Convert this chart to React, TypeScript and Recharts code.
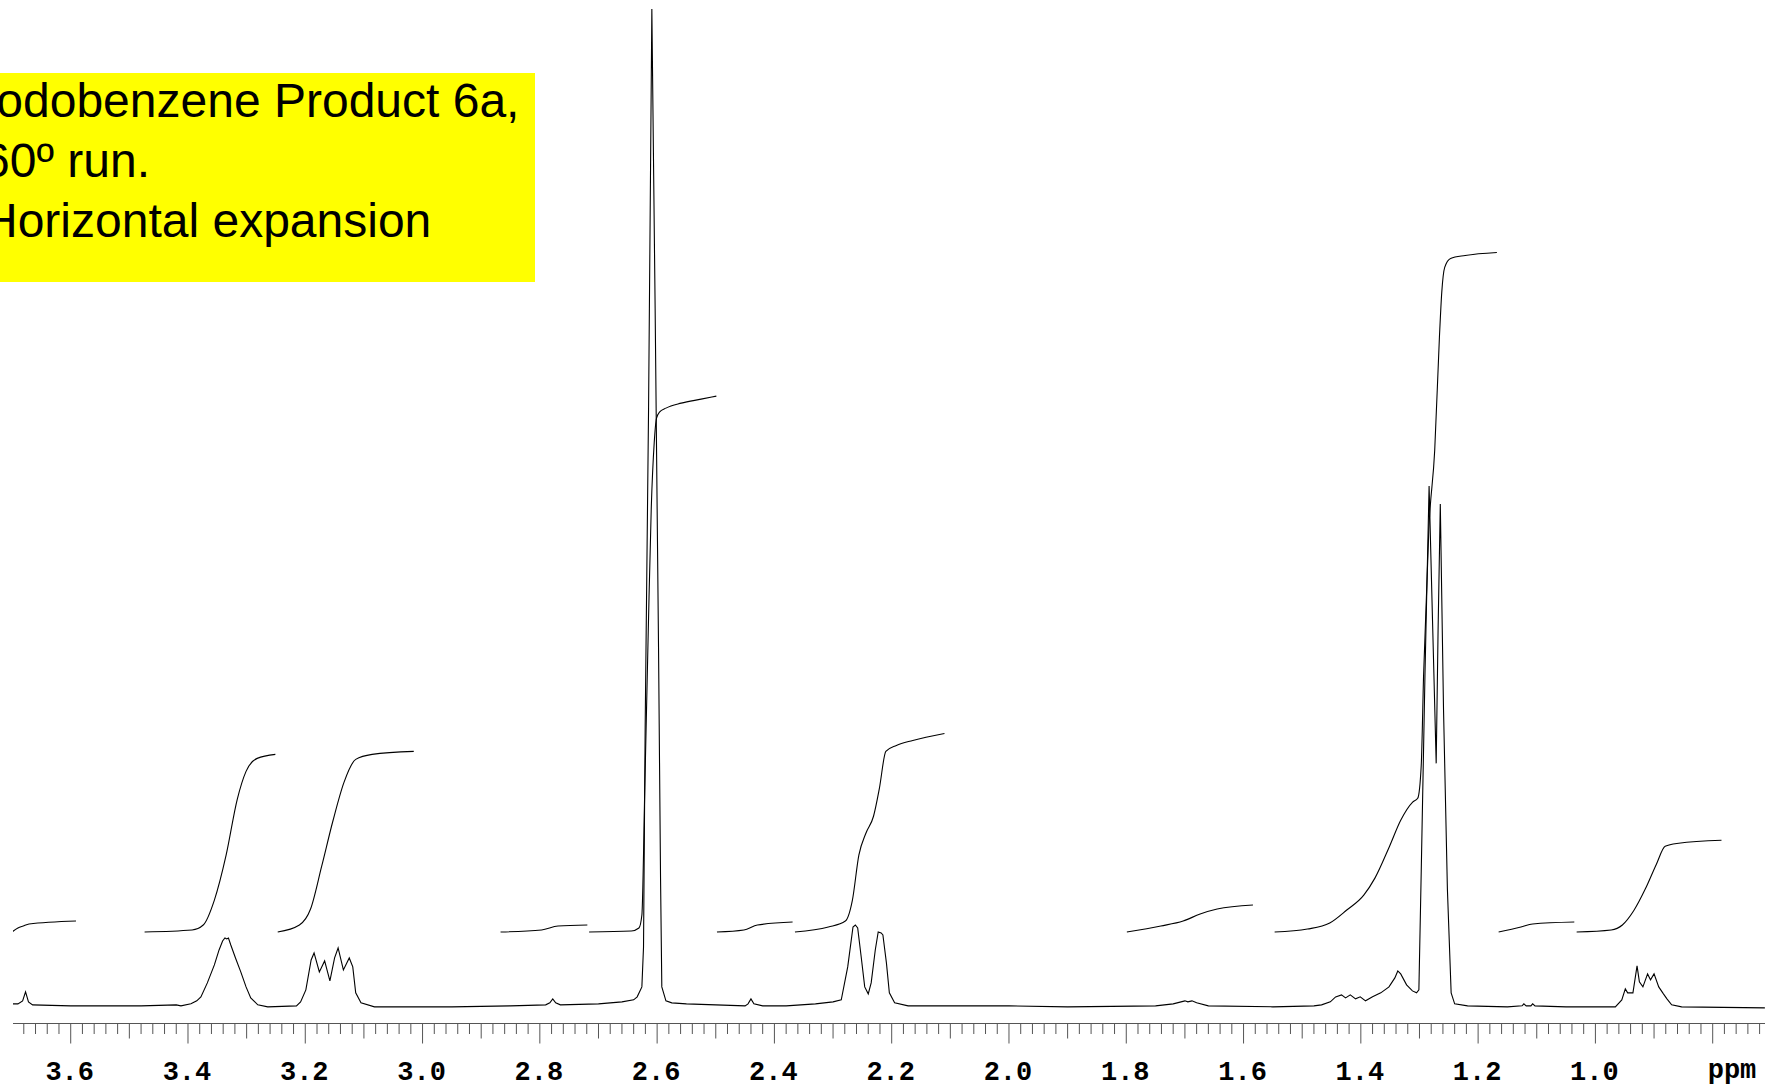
import { LineChart, Line, XAxis, YAxis } from 'recharts'

// ── Spectrum trace: [ppm, intensity] (tallest peak = 100) ──────────────────────

const SPECTRUM: [number, number][] = [
  [3.7, 0.3], [3.69, 0.3], [3.682, 0.6], [3.677, 1.5], [3.672, 0.5], [3.665, 0.2],
  [3.6, 0.1], [3.48, 0.1], [3.42, 0.2], [3.412, 0.1], [3.395, 0.3], [3.385, 0.6],
  [3.378, 1.0], [3.367, 2.4], [3.355, 4.2], [3.347, 5.7], [3.341, 6.6], [3.337, 6.9],
  [3.334, 6.8], [3.331, 6.9], [3.327, 6.2], [3.319, 4.9], [3.31, 3.5], [3.301, 2.0],
  [3.293, 0.9], [3.281, 0.2], [3.264, 0.0],
  [3.215, 0.1], [3.208, 0.5], [3.199, 1.7], [3.19, 4.7], [3.185, 5.4], [3.176, 3.5],
  [3.167, 4.6], [3.158, 2.6], [3.15, 4.9], [3.144, 5.9], [3.135, 3.7], [3.125, 4.9],
  [3.119, 4.0], [3.114, 1.4], [3.105, 0.4], [3.082, 0.0],
  [2.95, 0.0], [2.85, 0.1], [2.79, 0.2], [2.783, 0.4], [2.778, 0.8], [2.773, 0.4],
  [2.765, 0.2], [2.7, 0.3], [2.66, 0.5], [2.64, 0.7], [2.634, 1.0], [2.626, 2.0],
  [2.6232, 6], [2.6204, 28], [2.6146, 60], [2.609, 100], [2.6034, 70], [2.5976, 36],
  [2.5942, 13], [2.592, 2.0], [2.585, 0.6], [2.575, 0.4], [2.55, 0.3],
  [2.5, 0.2], [2.45, 0.1], [2.445, 0.3], [2.44, 0.8], [2.435, 0.3], [2.42, 0.1],
  [2.38, 0.1], [2.33, 0.3], [2.3, 0.5], [2.286, 0.7], [2.275, 4.0], [2.266, 8.0],
  [2.262, 8.2], [2.258, 7.9], [2.252, 5.0], [2.246, 2.0], [2.24, 1.3], [2.235, 2.4],
  [2.228, 5.7], [2.223, 7.5], [2.218, 7.4], [2.215, 7.2], [2.209, 4.4], [2.204, 1.4],
  [2.195, 0.4], [2.172, 0.1],
  [2.1, 0.1], [2.0, 0.1], [1.9, 0.0], [1.75, 0.1], [1.72, 0.3], [1.7, 0.6],
  [1.695, 0.5], [1.688, 0.6], [1.68, 0.4], [1.66, 0.1], [1.55, 0.0],
  [1.48, 0.1], [1.467, 0.2], [1.452, 0.5], [1.443, 1.0], [1.433, 1.2], [1.426, 0.9],
  [1.418, 1.2], [1.409, 0.8], [1.401, 1.0], [1.392, 0.6], [1.38, 1.0], [1.366, 1.4],
  [1.352, 2.0], [1.342, 2.9], [1.337, 3.6], [1.332, 3.3], [1.322, 2.2], [1.312, 1.6],
  [1.305, 1.4], [1.301, 1.7], [1.297, 13.6], [1.2906, 33.4], [1.2836, 52.2],
  [1.2778, 38.8], [1.2715, 24.4], [1.2683, 37.7], [1.2645, 50.4], [1.259, 29.8],
  [1.2524, 11.8], [1.246, 1.4], [1.24, 0.3], [1.218, 0.1],
  [1.15, 0.0], [1.125, 0.1], [1.122, 0.3], [1.118, 0.1], [1.11, 0.1], [1.107, 0.3],
  [1.103, 0.1], [1.05, 0.0],
  [0.966, 0.0], [0.955, 0.7], [0.949, 1.8], [0.945, 1.4], [0.936, 1.4], [0.929, 4.1],
  [0.925, 2.5], [0.919, 2.0], [0.911, 3.3], [0.906, 2.7], [0.9, 3.3], [0.892, 2.0],
  [0.884, 1.3], [0.878, 0.8], [0.87, 0.2], [0.853, 0.0], [0.711, -0.1],
]

// ── Integral curves: [ppm, level] ──────────────────────────────────────────────

const INT_368: [number, number][] = [
  [3.7, 7.5], [3.69, 7.9], [3.681, 8.1], [3.671, 8.3], [3.591, 8.6],
]
const INT_333: [number, number][] = [
  [3.474, 7.5], [3.393, 7.7], [3.374, 8.2], [3.355, 10.7], [3.335, 15.2],
  [3.316, 20.8], [3.301, 23.6], [3.282, 24.9], [3.251, 25.3],
]
const INT_315: [number, number][] = [
  [3.247, 7.5], [3.21, 8.2], [3.191, 9.8], [3.172, 14.1], [3.153, 18.6],
  [3.134, 22.5], [3.114, 24.8], [3.086, 25.3], [3.015, 25.6],
]
const INT_278: [number, number][] = [
  [2.867, 7.5], [2.797, 7.7], [2.769, 8.1], [2.719, 8.2],
]
const INT_261: [number, number][] = [
  [2.716, 7.5], [2.644, 7.6], [2.631, 7.9], [2.626, 9.2], [2.621, 22],
  [2.615, 38], [2.61, 50], [2.605, 56.5], [2.601, 59.0], [2.596, 59.6],
  [2.585, 60.0], [2.559, 60.5], [2.525, 60.9], [2.499, 61.2],
]
const INT_244: [number, number][] = [
  [2.498, 7.5], [2.452, 7.7], [2.429, 8.2], [2.369, 8.5],
]
const INT_224: [number, number][] = [
  [2.365, 7.5], [2.308, 8.0], [2.279, 8.6], [2.267, 10.7], [2.256, 15.2],
  [2.244, 17.4], [2.231, 19.1], [2.221, 21.9], [2.21, 25.6], [2.192, 26.2],
  [2.164, 26.7], [2.11, 27.4],
]
const INT_170: [number, number][] = [
  [1.799, 7.5], [1.741, 8.1], [1.703, 8.6], [1.674, 9.3], [1.645, 9.8], [1.584, 10.2],
]
const INT_128: [number, number][] = [
  [1.547, 7.5], [1.491, 7.8], [1.453, 8.4], [1.424, 9.7], [1.395, 11.2],
  [1.376, 12.9], [1.351, 16.1], [1.332, 18.7], [1.312, 20.5], [1.303, 20.9],
  [1.297, 24.2], [1.293, 33.2], [1.284, 47.9], [1.274, 55.8], [1.266, 67.1],
  [1.262, 71.6], [1.257, 74.1], [1.247, 75.0], [1.222, 75.3], [1.168, 75.6],
]
const INT_112: [number, number][] = [
  [1.165, 7.5], [1.127, 8.0], [1.107, 8.3], [1.036, 8.5],
]
const INT_092: [number, number][] = [
  [1.032, 7.5], [0.973, 7.7], [0.954, 8.2], [0.935, 9.6], [0.915, 11.8],
  [0.896, 14.3], [0.881, 16.1], [0.858, 16.4], [0.785, 16.7],
]

const INTEGRALS = [INT_368, INT_333, INT_315, INT_278, INT_261, INT_244, INT_224, INT_170, INT_128, INT_112, INT_092]

// ── Axis labels ───────────────────────────────────────────────────────────────

const MAJOR_LABELS = ['3.6', '3.4', '3.2', '3.0', '2.8', '2.6', '2.4', '2.2', '2.0', '1.8', '1.6', '1.4', '1.2', '1.0']
const UNIT_LABEL = 'ppm'
const UNIT_AT = 0.8

const CAPTION = ['Iodobenzene Product 6a,', '60º run.', 'Horizontal expansion']

// minor ticks every 0.02 ppm
const TICKS: number[] = []
for (let k = 36; k <= 184; k++) TICKS.push(k / 50)

const toRows = (pts: [number, number][]) => pts.map(([ppm, v]) => ({ ppm, v }))

const INK = '#000'
const AXIS = '#555'

function PpmTick(props: any) {
  const { x, y, payload } = props
  const k = Math.round(payload.value * 50)
  const major = k % 10 === 0
  const medium = !major && k % 5 === 0
  const len = major ? 20 : medium ? 15 : 10.5
  const txt = MAJOR_LABELS.find((l) => Math.round(Number(l) * 50) === k)
  const isUnit = k === Math.round(UNIT_AT * 50)
  return (
    <g>
      <line x1={x} x2={x} y1={y} y2={y + len} stroke={AXIS} strokeWidth={1} />
      {txt && (
        <text x={x - 1} y={y + 56} textAnchor="middle" fontFamily="'Liberation Mono', monospace" fontWeight="bold" fontSize={27} fill={INK}>
          {txt}
        </text>
      )}
      {isUnit && (
        <text x={x - 5} y={y + 54} textAnchor="start" fontFamily="'Liberation Mono', monospace" fontWeight="bold" fontSize={27} fill={INK}>
          {UNIT_LABEL}
        </text>
      )}
    </g>
  )
}

export default function App() {
  return (
    <div style={{ position: 'absolute', left: 0, top: 0, width: 1765, height: 1087, background: '#fff', overflow: 'hidden' }}>
      <LineChart width={1765} height={1087} margin={{ top: 9, right: 0, bottom: 0, left: 13 }}>
        <XAxis
          type="number"
          dataKey="ppm"
          domain={[0.7108, 3.6984]}
          reversed
          allowDataOverflow
          ticks={TICKS}
          interval={0}
          tickSize={0}
          tickMargin={0}
          tickLine={false}
          tick={(p: any) => <PpmTick {...p} />}
          axisLine={{ stroke: AXIS, strokeWidth: 1 }}
          height={63.5}
        />
        <YAxis hide type="number" domain={[-1.67, 100]} allowDataOverflow />
        <Line
          data={toRows(SPECTRUM)}
          dataKey="v"
          type="linear"
          stroke={INK}
          strokeWidth={1.1}
          dot={false}
          isAnimationActive={false}
        />
        {INTEGRALS.map((seg, i) => (
          <Line
            key={i}
            data={toRows(seg)}
            dataKey="v"
            type="monotone"
            stroke={INK}
            strokeWidth={1.1}
            dot={false}
            isAnimationActive={false}
          />
        ))}
      </LineChart>
      <svg width={1765} height={1087} style={{ position: 'absolute', left: 0, top: 0, pointerEvents: 'none' }}>
        <rect x={0} y={73} width={535} height={209} fill="#ffff00" />
        {CAPTION.map((line, i) => (
          <text key={i} x={-17} y={117 + i * 60} fontFamily="'Liberation Sans', Arial, sans-serif" fontSize={48} fill={INK}>
            {line}
          </text>
        ))}
      </svg>
    </div>
  )
}
